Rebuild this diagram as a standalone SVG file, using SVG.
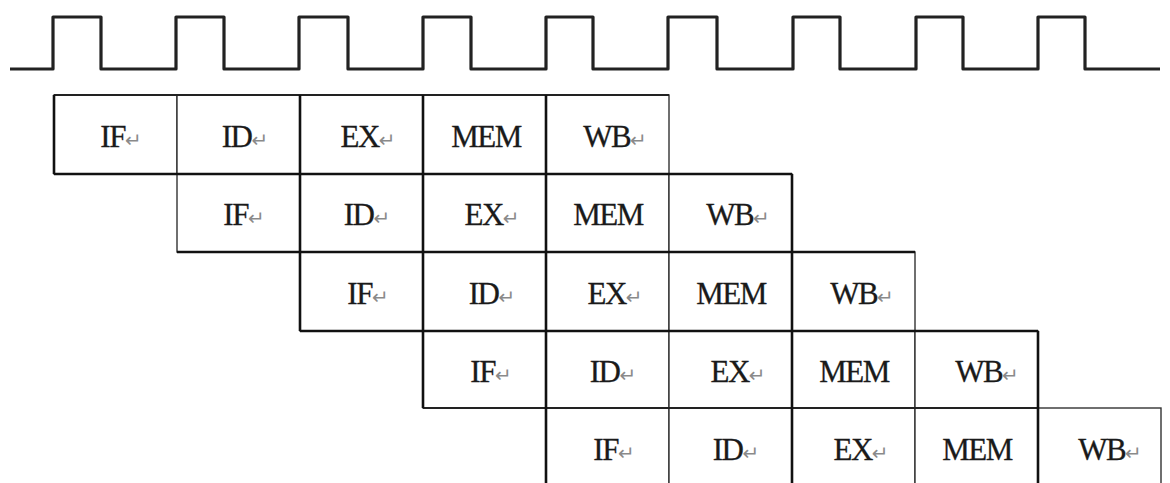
<svg xmlns="http://www.w3.org/2000/svg" width="1170" height="483" viewBox="0 0 1170 483">
<style>
.cell{fill:#fff;stroke:#333;stroke-width:1.4}
.lbl{font-family:"Liberation Serif","Times New Roman",serif;font-size:31px;fill:#1a1a1a;stroke:#1a1a1a;stroke-width:0.3;text-anchor:middle;letter-spacing:-1.5px}
.ret{font-family:"DejaVu Sans",sans-serif;font-size:20px;fill:#8a8a8a;stroke:none;letter-spacing:0}
.thick{stroke:#111;stroke-width:2.6;fill:none}
.mid{stroke:#222;stroke-width:1.8;fill:none}
.clk{stroke:#222;stroke-width:3.2;fill:none;stroke-linejoin:round}
</style>
<rect width="1170" height="483" fill="#fff"/>
<g id="clock">
<path class="clk" d="M10,69 H53 V17 H101 V69 H176 V17 H224 V69 H299 V17 H348 V69 H423 V17 H471 V69 H546 V17 H593 V69 H668 V17 H717 V69 H793 V17 H840 V69 H916 V17 H963 V69 H1038 V17 H1085 V69 H1160"/>
</g>
<g id="row0">
<g id="r0c0"><rect class="cell" x="54" y="95" width="123" height="79"/><text class="lbl" x="121" y="146.5">IF<tspan class="ret">↵</tspan></text></g>
<g id="r0c1"><rect class="cell" x="177" y="95" width="123" height="79"/><text class="lbl" x="245" y="146.5">ID<tspan class="ret">↵</tspan></text></g>
<g id="r0c2"><rect class="cell" x="300" y="95" width="123" height="79"/><text class="lbl" x="368" y="146.5">EX<tspan class="ret">↵</tspan></text></g>
<g id="r0c3"><rect class="cell" x="423" y="95" width="123" height="79"/><text class="lbl" x="486" y="146.5">MEM</text></g>
<g id="r0c4"><rect class="cell" x="546" y="95" width="123" height="79"/><text class="lbl" x="615" y="146.5">WB<tspan class="ret">↵</tspan></text></g>
</g>
<g id="row1">
<g id="r1c1"><rect class="cell" x="177" y="174" width="123" height="78"/><text class="lbl" x="244" y="225">IF<tspan class="ret">↵</tspan></text></g>
<g id="r1c2"><rect class="cell" x="300" y="174" width="123" height="78"/><text class="lbl" x="367" y="225">ID<tspan class="ret">↵</tspan></text></g>
<g id="r1c3"><rect class="cell" x="423" y="174" width="123" height="78"/><text class="lbl" x="492" y="225">EX<tspan class="ret">↵</tspan></text></g>
<g id="r1c4"><rect class="cell" x="546" y="174" width="123" height="78"/><text class="lbl" x="608" y="225">MEM</text></g>
<g id="r1c5"><rect class="cell" x="669" y="174" width="123" height="78"/><text class="lbl" x="738" y="225">WB<tspan class="ret">↵</tspan></text></g>
</g>
<g id="row2">
<g id="r2c2"><rect class="cell" x="300" y="252" width="123" height="79"/><text class="lbl" x="368" y="303.5">IF<tspan class="ret">↵</tspan></text></g>
<g id="r2c3"><rect class="cell" x="423" y="252" width="123" height="79"/><text class="lbl" x="492" y="303.5">ID<tspan class="ret">↵</tspan></text></g>
<g id="r2c4"><rect class="cell" x="546" y="252" width="123" height="79"/><text class="lbl" x="615" y="303.5">EX<tspan class="ret">↵</tspan></text></g>
<g id="r2c5"><rect class="cell" x="669" y="252" width="123" height="79"/><text class="lbl" x="731" y="303.5">MEM</text></g>
<g id="r2c6"><rect class="cell" x="792" y="252" width="123" height="79"/><text class="lbl" x="862" y="303.5">WB<tspan class="ret">↵</tspan></text></g>
</g>
<g id="row3">
<g id="r3c3"><rect class="cell" x="423" y="331" width="123" height="77"/><text class="lbl" x="491" y="381.5">IF<tspan class="ret">↵</tspan></text></g>
<g id="r3c4"><rect class="cell" x="546" y="331" width="123" height="77"/><text class="lbl" x="613" y="381.5">ID<tspan class="ret">↵</tspan></text></g>
<g id="r3c5"><rect class="cell" x="669" y="331" width="123" height="77"/><text class="lbl" x="738" y="381.5">EX<tspan class="ret">↵</tspan></text></g>
<g id="r3c6"><rect class="cell" x="792" y="331" width="123" height="77"/><text class="lbl" x="854" y="381.5">MEM</text></g>
<g id="r3c7"><rect class="cell" x="915" y="331" width="123" height="77"/><text class="lbl" x="987" y="381.5">WB<tspan class="ret">↵</tspan></text></g>
</g>
<g id="row4">
<g id="r4c4"><rect class="cell" x="546" y="408" width="123" height="80"/><text class="lbl" x="614" y="459.5">IF<tspan class="ret">↵</tspan></text></g>
<g id="r4c5"><rect class="cell" x="669" y="408" width="123" height="80"/><text class="lbl" x="736" y="459.5">ID<tspan class="ret">↵</tspan></text></g>
<g id="r4c6"><rect class="cell" x="792" y="408" width="123" height="80"/><text class="lbl" x="861" y="459.5">EX<tspan class="ret">↵</tspan></text></g>
<g id="r4c7"><rect class="cell" x="915" y="408" width="123" height="80"/><text class="lbl" x="977" y="459.5">MEM</text></g>
<g id="r4c8"><rect class="cell" x="1038" y="408" width="123" height="80"/><text class="lbl" x="1110" y="459.5">WB<tspan class="ret">↵</tspan></text></g>
</g>
<g id="connectors">
<path class="mid" d="M54,95 H669 M423,408 H1038"/>
<path class="thick" d="M54,95 V174 M54,174 H792 M177,252 H915 M300,331 H1038 M300,95 V331 M423,95 V408 M546,95 V483 M792,174 V483 M1038,331 V483"/>
</g>
</svg>
